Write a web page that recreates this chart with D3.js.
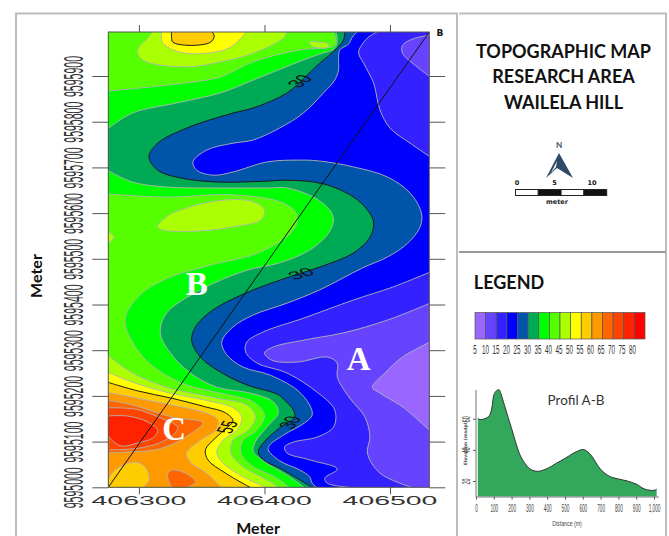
<!DOCTYPE html>
<html>
<head>
<meta charset="utf-8">
<script src="https://cdn.jsdelivr.net/npm/d3@7"></script>
<style>
body { margin: 0; background: #fff; }
svg { display: block; }
</style>
</head>
<body>
<script>
// Map values are metres: easting - 406000, northing - 9595000
var originE = 406000;
var originN = 9595000;
var eastTicks = [300, 400, 500];
var northTicks = [0, 100, 200, 300, 400, 500, 600, 700, 800, 900];

var levels = [5, 10, 15, 20, 25, 30, 35, 40, 45, 50, 55, 60, 65, 70, 75, 80];
var levelColors = ["#9966ff", "#6644ff", "#3322ff", "#0000ff", "#0055aa", "#00aa55", "#00ff00", "#55ff00",
	"#aaff00", "#ffff00", "#ffcc00", "#ff9900", "#ff6600", "#ff4400", "#ff2200", "#ff0000"];

// Contours
var c20North = [[490,997],[482,983],[475,952],[479,928],[486,891],[488,874],[492,826],[500,786],[516,753],[532,723]];
var c15North = [[532,990],[518,981],[510,967],[510,950],[522,919],[532,898]];
var c20South = [[532,471],[502,438],[471,410],[431,370],[399,340],[386,318],[385,296],[394,272],[418,250],[442,208],[456,169],[455,132],[442,110],[423,99],[416,88],[418,75],[436,60],[458,40],[448,20],[450,9],[471,-1]];
var c15South = [[532,403],[498,366],[463,338],[431,322],[407,307],[400,294],[406,278],[426,274],[450,285],[458,272],[458,241],[468,195],[480,154],[484,110],[482,75],[492,31],[518,-1]];
var c10South = [[532,318],[510,285],[496,250],[486,219],[492,206],[510,176],[532,123]];
var c25 = [[474,997],[470,985],[467,970],[460,957],[459,941],[459,913],[456,891],[447,863],[431,819],[412,786],[391,760],[375,753],[354,738],[343,712],[346,694],[359,683],[375,690],[402,712],[428,716],[444,714],[471,701],[498,679],[516,644],[525,600],[524,570],[514,534],[498,504],[478,480],[444,432],[418,403],[391,377],[375,351],[366,318],[370,290],[383,263],[404,246],[426,213],[436,180],[438,158],[432,141],[415,114],[404,92],[403,82],[412,58],[428,38],[436,23],[438,9],[442,-1]];
var c30 = [[464,997],[463,979],[458,961],[444,928],[434,902],[418,863],[391,830],[375,819],[338,786],[315,753],[308,723],[315,694],[333,677],[362,668],[402,670],[418,672],[447,664],[471,635],[482,607],[487,580],[484,547],[471,513],[444,482],[415,456],[385,425],[359,388],[346,355],[342,322],[349,285],[365,252],[386,224],[410,204],[416,191],[423,169],[424,154],[412,130],[399,97],[395,77],[399,60],[412,42],[426,20],[438,-1]];
var c35North = [[457,997],[458,979],[456,961],[444,948],[431,935],[391,891],[365,863],[330,841],[295,819],[275,784]];
var c35South = [[275,694],[295,668],[322,657],[362,655],[402,655],[418,655],[439,635],[452,607],[455,585],[451,556],[436,519],[412,491],[386,475],[349,432],[322,381],[317,338],[325,294],[341,250],[362,219],[389,206],[407,187],[411,163],[402,132],[393,101],[391,79],[398,60],[420,23],[432,-1]];
var c40North = [[455,997],[457,974],[455,965],[428,957],[391,931],[365,898],[338,885],[275,867]];
var c40South = [[275,642],[322,635],[375,640],[415,622],[426,596],[423,563],[397,515],[357,486],[325,460],[301,421],[289,366],[299,300],[315,257],[338,224],[365,206],[391,187],[400,158],[394,125],[383,103],[381,77],[389,49],[410,20],[420,-1]];
var c45North = [[311,998],[307,983],[299,957],[303,935],[338,920],[365,931],[391,950],[415,983],[418,998]];
var c45Middle = [[315,570],[322,592],[341,614],[370,629],[391,625],[400,607],[397,585],[375,570],[349,561],[319,563]];
var c45NorthEast = [[436,974],[438,965],[451,963],[451,970],[444,974]];
var c45West = [[275,559],[280,548],[275,532]];
var c45South = [[275,289],[295,250],[322,219],[362,195],[386,180],[393,154],[387,125],[375,103],[373,77],[381,49],[402,16],[412,-1]];
var c50North = [[318,998],[319,972],[333,952],[354,950],[373,963],[386,998]];
var c50South = [[275,252],[295,230],[322,208],[359,187],[375,174],[382,152],[378,125],[367,103],[362,75],[367,53],[383,23],[402,-1]];
var c55North = [[326,998],[326,985],[327,974],[341,967],[357,974],[360,987],[358,998]];
var c55South = [[275,230],[299,211],[326,195],[353,176],[369,163],[375,145],[370,130],[361,108],[353,82],[355,60],[369,31],[389,-1]];
var c60South = [[275,208],[299,195],[326,180],[353,163],[363,147],[361,125],[349,103],[338,75],[341,55],[353,33],[366,-1]];
var c55Corner = [[275,14],[281,38],[297,55],[305,44],[308,16],[303,-1]];
var c65South = [[275,191],[295,180],[326,154],[351,141],[342,119],[329,97],[313,82],[289,77],[275,75]];
var c65Patch = [[323,31],[327,38],[337,31],[345,12],[337,-1],[327,-1],[323,20]];
var c70South = [[275,174],[297,171],[317,152],[331,130],[321,103],[301,86],[277,82]];
var c75South = [[275,156],[291,156],[307,143],[315,125],[311,108],[299,97],[287,90],[281,97],[275,114]];

var profileDistance = [10, 25, 50, 75, 90, 100, 115, 130, 140, 160, 180, 200, 225, 250, 275, 300, 325, 350, 400, 450, 500, 550, 600, 625, 650, 700, 750, 800, 850, 900, 950, 1000, 1015];
var profileElevation = [60, 59.5, 60, 62, 67.5, 75, 78, 78.6, 76, 68.6, 61, 53.7, 44, 36, 31.3, 28, 26.6, 26.2, 28, 31.3, 34.5, 38, 40.2, 39, 36, 27.5, 23, 21.3, 20, 18, 14.7, 14, 14.7];
var profileDistanceTicks = [0, 100, 200, 300, 400, 500, 600, 700, 800, 900, 1000];
var profileElevationTicks = [20, 40, 60];
var scaleBarTicks = [0, 5, 10];

var w = 669;
var h = 536;

var svg = d3.select("body")
	.append("svg")
	.attr("width", w)
	.attr("height", h);

// panel frames
var frame = svg.append("g").attr("fill", "none").attr("stroke", "#bdbdbd").attr("stroke-width", 2);
frame.append("path").attr("d", "M16,536V13.5H457V536");
frame.append("path").attr("d", "M459,13.5H666V536");
frame.append("path").attr("d", "M459,252H666").attr("stroke", "#9a9a9a");

var xScale = d3.scaleLinear().domain([275.6, 531.3]).range([108.3, 429.3]);
var yScale = d3.scaleLinear().domain([0, 996.3]).range([487.3, 32]);
var color = d3.scaleThreshold().domain(levels.slice(1)).range(levelColors);

svg.append("defs").append("clipPath").attr("id", "mapClip")
	.append("rect")
	.attr("x", xScale.range()[0])
	.attr("y", yScale.range()[1])
	.attr("width", xScale.range()[1] - xScale.range()[0])
	.attr("height", yScale.range()[0] - yScale.range()[1]);

var map = svg.append("g").attr("clip-path", "url(#mapClip)");

var NW = [275, 997], NE = [532, 997], SW = [275, -1], SE = [532, -1];

// painted in order, band is the colour of the area the contour closes
var layers = [
	{ band: 15, pts: c20North, close: [NE] },
	{ band: 10, pts: c15North, close: [NE] },
	{ band: 15, pts: c20South, close: [SE] },
	{ band: 10, pts: c15South, close: [SE] },
	{ band: 5, pts: c10South, close: [] },
	{ band: 25, pts: c25, close: [SW, NW] },
	{ band: 30, pts: c30, close: [SW, NW], black: true },
	{ band: 35, pts: c35North, close: [NW] },
	{ band: 35, pts: c35South, close: [SW] },
	{ band: 40, pts: c40North, close: [NW] },
	{ band: 40, pts: c40South, close: [SW] },
	{ band: 45, pts: c45North, close: [] },
	{ band: 45, pts: c45Middle, closed: true },
	{ band: 45, pts: c45NorthEast, closed: true },
	{ band: 45, pts: c45West, close: [] },
	{ band: 45, pts: c45South, close: [SW] },
	{ band: 50, pts: c50North, close: [] },
	{ band: 50, pts: c50South, close: [SW] },
	{ band: 55, pts: c55North, close: [], black: true },
	{ band: 55, pts: c55South, close: [SW], black: true },
	{ band: 60, pts: c60South, close: [SW] },
	{ band: 55, pts: c55Corner, close: [SW] },
	{ band: 65, pts: c65South, close: [] },
	{ band: 65, pts: c65Patch, closed: true },
	{ band: 70, pts: c70South, close: [] },
	{ band: 75, pts: c75South, close: [] }
];

var openLine = d3.line()
	.x(function(d) { return xScale(d[0]); })
	.y(function(d) { return yScale(d[1]); })
	.curve(d3.curveCatmullRom.alpha(0.5));
var closedLine = d3.line()
	.x(function(d) { return xScale(d[0]); })
	.y(function(d) { return yScale(d[1]); })
	.curve(d3.curveCatmullRomClosed.alpha(0.5));

map.append("rect")
	.attr("x", xScale.range()[0])
	.attr("y", yScale.range()[1])
	.attr("width", xScale.range()[1] - xScale.range()[0])
	.attr("height", yScale.range()[0] - yScale.range()[1])
	.attr("fill", color(20));

var layerGroups = map.selectAll("g.layer")
	.data(layers)
	.enter()
	.append("g")
	.attr("class", "layer");

layerGroups.append("path")
	.attr("fill", function(d) { return color(d.band); })
	.attr("d", function(d) {
		if (d.closed) return closedLine(d.pts);
		var tail = d.close.map(function(c) { return "L" + xScale(c[0]) + "," + yScale(c[1]); }).join("");
		return openLine(d.pts) + tail + "Z";
	});

layerGroups.append("path")
	.attr("fill", "none")
	.attr("stroke", function(d) { return d.black ? "#1a1a1a" : "#b4b4b4"; })
	.attr("stroke-width", function(d) { return d.black ? 1 : 0.9; })
	.attr("d", function(d) { return d.closed ? closedLine(d.pts) : openLine(d.pts); });

// section line A-B
var sectionEnds = [[275.6, 0], [531.3, 996.3]];
map.append("path")
	.attr("d", d3.line().x(function(d) { return xScale(d[0]); }).y(function(d) { return yScale(d[1]); })(sectionEnds))
	.attr("fill", "none")
	.attr("stroke", "#111")
	.attr("stroke-width", 1);

// contour labels, the map is stretched sideways so the digits are too
var contourLabelText = ["30", "30", "30", "55"];
var contourLabelE = [428, 429, 420, 370];
var contourLabelN = [889, 468, 142, 132];
var contourLabelAngle = [-55, -30, -69, -72];
map.selectAll("text.clabel")
	.data(contourLabelText)
	.enter()
	.append("text")
	.attr("class", "clabel")
	.attr("transform", function(d, i) {
		return "translate(" + xScale(contourLabelE[i]) + "," + yScale(contourLabelN[i]) + ") scale(1.9,0.95) rotate(" + contourLabelAngle[i] + ")";
	})
	.attr("text-anchor", "middle")
	.attr("dy", "0.36em")
	.attr("font-family", "Liberation Sans")
	.attr("font-size", 12)
	.attr("fill", "#111")
	.text(function(d) { return d; });

// white area letters
var areaLetters = ["A", "B", "C"];
var areaLetterE = [475, 346, 328];
var areaLetterN = [282, 446, 127];
svg.selectAll("text.area")
	.data(areaLetters)
	.enter()
	.append("text")
	.attr("class", "area")
	.attr("x", function(d, i) { return xScale(areaLetterE[i]); })
	.attr("y", function(d, i) { return yScale(areaLetterN[i]); })
	.attr("text-anchor", "middle")
	.attr("dy", "0.34em")
	.attr("font-family", "Liberation Serif")
	.attr("font-weight", "bold")
	.attr("font-size", 33)
	.attr("fill", "#fff")
	.text(function(d) { return d; });

svg.append("rect")
	.attr("x", xScale.range()[0])
	.attr("y", yScale.range()[1])
	.attr("width", xScale.range()[1] - xScale.range()[0])
	.attr("height", yScale.range()[0] - yScale.range()[1])
	.attr("fill", "none")
	.attr("stroke", "#555")
	.attr("stroke-width", 1);

// axes
var bottomAxis = svg.append("g")
	.attr("transform", "translate(0," + yScale(0) + ")")
	.call(d3.axisBottom(xScale).tickValues(eastTicks).tickSize(7).tickSizeOuter(0)
		.tickFormat(function(d) { return originE + d; }));
var topAxis = svg.append("g")
	.attr("transform", "translate(0," + yScale.range()[1] + ")")
	.call(d3.axisTop(xScale).tickValues(eastTicks).tickSize(7).tickSizeOuter(0).tickFormat(""));
var leftAxis = svg.append("g")
	.attr("transform", "translate(" + xScale.range()[0] + ",0)")
	.call(d3.axisLeft(yScale).tickValues(northTicks).tickSize(16).tickSizeOuter(0)
		.tickFormat(function(d) { return originN + d; }));
var rightAxis = svg.append("g")
	.attr("transform", "translate(" + xScale.range()[1] + ",0)")
	.call(d3.axisRight(yScale).tickValues(northTicks).tickSize(16).tickSizeOuter(0).tickFormat(""));

[bottomAxis, topAxis, leftAxis, rightAxis].forEach(function(a) {
	a.select(".domain").remove();
	a.selectAll("line").attr("stroke", "#555");
});

bottomAxis.selectAll("text")
	.attr("transform", "translate(-0.5,13) scale(2.37,1)")
	.attr("y", 0)
	.attr("dy", "0.36em")
	.attr("font-family", "Liberation Sans")
	.attr("font-size", 12)
	.attr("fill", "#333");

leftAxis.selectAll("text")
	.attr("transform", "translate(-35,0) rotate(-90) scale(0.39,1)")
	.attr("x", 0)
	.attr("y", 0)
	.attr("dy", "0.36em")
	.attr("text-anchor", "middle")
	.attr("font-family", "Liberation Sans")
	.attr("font-size", 27)
	.attr("fill", "#333");

svg.append("text")
	.attr("x", 440).attr("y", 33).attr("dy", "0.36em")
	.attr("text-anchor", "middle")
	.attr("font-family", "DejaVu Sans").attr("font-weight", "bold").attr("font-size", 9)
	.attr("fill", "#111")
	.text("B");

function labelText(x, y, str, size, rotate) {
	return svg.append("text")
		.attr("transform", "translate(" + x + "," + y + ")" + (rotate ? " rotate(" + rotate + ")" : ""))
		.attr("text-anchor", "middle")
		.attr("dy", "0.36em")
		.attr("font-family", "Lato")
		.attr("font-weight", "bold")
		.attr("font-size", size)
		.attr("fill", "#111")
		.text(str);
}

labelText(36, 276, "Meter", 16, -90);
labelText(258, 528, "Meter", 16);

// title block
labelText(563.5, 52, "TOPOGRAPHIC MAP", 18);
labelText(563.5, 77, "RESEARCH AREA", 18);
labelText(563.5, 103, "WAILELA HILL", 18);

// north arrow
labelText(559, 145, "N", 8).attr("fill", "#3a4f63");
svg.append("path").attr("d", "M559,153L546,178L557,168L573,178Z").attr("fill", "#2d4a66");
svg.append("path").attr("d", "M557,161L551,173L556,167Z").attr("fill", "#fff");

// scale bar
var barScale = d3.scaleLinear().domain([0, 10]).range([517, 592]);
var barSegments = [0, 1, 2, 3];
svg.selectAll("rect.seg")
	.data(barSegments)
	.enter()
	.append("rect")
	.attr("class", "seg")
	.attr("x", function(d) { return 515.5 + d * 22.8; })
	.attr("y", 189.5)
	.attr("width", 22.8)
	.attr("height", 6)
	.attr("fill", function(d) { return d % 2 ? "#111" : "#fff"; })
	.attr("stroke", "#222");
svg.selectAll("text.bar")
	.data(scaleBarTicks)
	.enter()
	.append("text")
	.attr("class", "bar")
	.attr("x", function(d) { return barScale(d); })
	.attr("y", 183)
	.attr("dy", "0.36em")
	.attr("text-anchor", "middle")
	.attr("font-family", "DejaVu Sans")
	.attr("font-weight", "bold")
	.attr("font-size", 6.5)
	.attr("fill", "#111")
	.text(function(d) { return d; });
svg.append("text")
	.attr("x", 557).attr("y", 202).attr("dy", "0.36em")
	.attr("text-anchor", "middle")
	.attr("font-family", "DejaVu Sans").attr("font-weight", "bold").attr("font-size", 6.5)
	.attr("fill", "#222")
	.text("meter");

// legend
labelText(509, 283, "LEGEND", 18);
var legendX = d3.scaleBand().domain(levels).range([475, 645]);
var legendLabelX = d3.scalePoint().domain(levels).range([475, 632.5]);
svg.selectAll("rect.swatch")
	.data(levels)
	.enter()
	.append("rect")
	.attr("class", "swatch")
	.attr("x", function(d) { return legendX(d); })
	.attr("y", 312.5)
	.attr("width", legendX.bandwidth())
	.attr("height", 26.5)
	.attr("fill", function(d) { return color(d); })
	.attr("stroke", "#555")
	.attr("stroke-width", 0.7);
svg.selectAll("text.legendLabel")
	.data(levels)
	.enter()
	.append("text")
	.attr("class", "legendLabel")
	.attr("transform", function(d) { return "translate(" + legendLabelX(d) + ",349) scale(0.48,1)"; })
	.attr("dy", "0.36em")
	.attr("text-anchor", "middle")
	.attr("font-family", "Liberation Sans")
	.attr("font-size", 13)
	.attr("fill", "#333")
	.text(function(d) { return d; });

// profile A-B
var profileX = d3.scaleLinear().domain([0, 1000]).range([476, 654]);
var profileY = d3.scaleLinear().domain([20, 60]).range([481, 418.7]);
var profileRows = profileDistance.map(function(d, i) { return [d, profileElevation[i]]; });
var profileBase = profileY(10);
var profileArea = d3.area()
	.x(function(d) { return profileX(d[0]); })
	.y0(profileBase)
	.y1(function(d) { return profileY(d[1]); })
	.curve(d3.curveCatmullRom.alpha(0.5));
var profileLine = d3.line()
	.x(function(d) { return profileX(d[0]); })
	.y(function(d) { return profileY(d[1]); })
	.curve(d3.curveCatmullRom.alpha(0.5));

svg.append("path").attr("d", profileArea(profileRows)).attr("fill", "#33a85c");
svg.append("path").attr("d", profileLine(profileRows)).attr("fill", "none").attr("stroke", "#333").attr("stroke-width", 1);

var profileBottom = svg.append("g")
	.attr("transform", "translate(0," + profileBase + ")")
	.call(d3.axisBottom(profileX).tickValues(profileDistanceTicks).tickSize(3).tickSizeOuter(0));
var profileLeft = svg.append("g")
	.attr("transform", "translate(476,0)")
	.call(d3.axisLeft(profileY).tickValues(profileElevationTicks).tickSize(3).tickSizeOuter(0));

svg.append("path").attr("d", "M476,390V497H659").attr("fill", "none").attr("stroke", "#777");
[profileBottom, profileLeft].forEach(function(a) {
	a.select(".domain").remove();
	a.selectAll("line").attr("stroke", "#555");
});
profileBottom.selectAll("text")
	.attr("transform", "translate(0,12) scale(0.47,1)")
	.attr("y", 0)
	.attr("dy", "0.36em")
	.attr("font-family", "Liberation Sans")
	.attr("font-size", 10)
	.attr("fill", "#444");
profileLeft.selectAll("text")
	.attr("transform", "translate(-6,0) rotate(-90) scale(0.54,1)")
	.attr("x", 0)
	.attr("y", 0)
	.attr("dy", "0")
	.attr("text-anchor", "middle")
	.attr("font-family", "Liberation Sans")
	.attr("font-size", 10)
	.attr("fill", "#444");

svg.append("text")
	.attr("transform", "translate(465,443) rotate(-90)")
	.attr("dy", "0.36em")
	.attr("text-anchor", "middle")
	.attr("font-family", "DejaVu Sans").attr("font-weight", "bold").attr("font-size", 4.5)
	.attr("fill", "#555")
	.text("Elevation (msdpl)");
svg.append("text")
	.attr("transform", "translate(567,523) scale(0.75,1)")
	.attr("dy", "0.36em")
	.attr("text-anchor", "middle")
	.attr("font-family", "Liberation Sans").attr("font-size", 7)
	.attr("fill", "#444")
	.text("Distance (m)");
svg.append("text")
	.attr("x", 576).attr("y", 400).attr("dy", "0.36em")
	.attr("text-anchor", "middle")
	.attr("font-family", "Lato").attr("font-size", 13.5)
	.attr("fill", "#333")
	.text("Profil A-B");
</script>
</body>
</html>
